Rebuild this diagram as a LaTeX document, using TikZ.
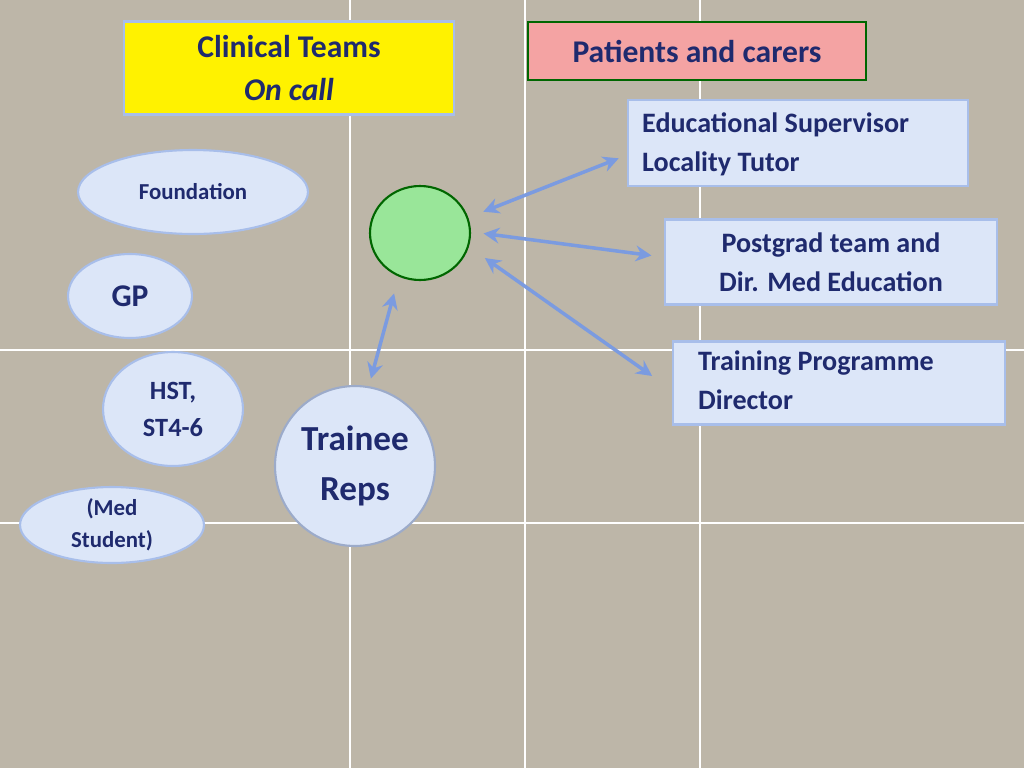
\documentclass[tikz,border=0pt]{standalone}
\usepackage{fontspec}
\setmainfont{Carlito}
\usetikzlibrary{shapes.geometric,arrows.meta}
\definecolor{bg}{HTML}{BDB6A8}
\definecolor{navy}{HTML}{1F2A6E}
\definecolor{lb}{HTML}{DCE6F8}
\definecolor{lbd}{HTML}{A8BEEA}
\definecolor{arr}{HTML}{7B9BE0}
\definecolor{pinkf}{HTML}{F4A3A3}
\definecolor{greenf}{HTML}{99E699}
\begin{document}
\begin{tikzpicture}[x=0.02cm,y=-0.02cm,
  txt/.style={text=navy,font=\bfseries,align=center},
  bx/.style={draw=lbd,line width=1.2pt,fill=lb,inner sep=0pt},
  ell/.style={draw=lbd,line width=1.2pt,fill=lb,ellipse,inner sep=0pt,txt},
  link/.style={arr,line width=2pt,{Stealth[length=9pt,width=9pt]}-{Stealth[length=9pt,width=9pt]},shorten <=2pt,shorten >=2pt}]
\fill[bg] (0,0) rectangle (1024,768);
\useasboundingbox (0,0) rectangle (1024,768);
\foreach \x in {350,525,700} \draw[white,line width=1pt] (\x,0) -- (\x,768);
\foreach \y in {350,523} \draw[white,line width=1pt] (0,\y) -- (1024,\y);
\node[draw=lbd,line width=1.2pt,fill=yellow,inner sep=0pt,minimum width=6.6cm,minimum height=1.86cm] (ct) at (289,68) {};
\node[txt,font=\fontsize{18}{24}\bfseries] (ctt) at (289,68) {Clinical Teams\\\textit{On call}};
\node[draw=black!60!green,fill=pinkf,line width=0.8pt,minimum width=6.76cm,minimum height=1.16cm,txt,font=\fontsize{18}{22}\bfseries] (pc) at (697,51) {Patients and carers};
\node[bx,minimum width=6.8cm,minimum height=1.72cm] (es) at (798,143) {};
\node[txt,align=left,anchor=west,font=\fontsize{16}{22}\bfseries] (est) at (636,144) {Educational Supervisor\\Locality Tutor};
\node[bx,minimum width=6.64cm,minimum height=1.7cm,txt,font=\fontsize{16}{22}\bfseries] (pg) at (831,262) {Postgrad team and\\Dir. Med Education};
\node[bx,minimum width=6.64cm,minimum height=1.66cm] (tp) at (839,383) {};
\node[txt,align=left,anchor=west,font=\fontsize{16}{22}\bfseries] (tpt) at (692,380) {Training Programme\\Director};
\node[draw=green!40!black,line width=1.2pt,fill=greenf,ellipse,minimum width=2cm,minimum height=1.88cm] (gc) at (420,233) {};
\node[ell,minimum width=4.6cm,minimum height=1.68cm,font=\fontsize{13}{16}\bfseries] (fo) at (193,192) {Foundation};
\node[ell,minimum width=2.48cm,minimum height=1.68cm,font=\fontsize{18}{22}\bfseries] (gp) at (130,296) {GP};
\node[ell,minimum width=2.8cm,minimum height=2.28cm,font=\fontsize{15}{21}\bfseries] (hst) at (173,409) {HST,\\ST4-6};
\node[ell,minimum width=3.68cm,minimum height=1.52cm,font=\fontsize{13}{18}\bfseries] (ms) at (112,525) {(Med\\Student)};
\node[draw=lbd!70!gray,line width=1.2pt,fill=lb,circle,inner sep=0pt,minimum size=3.2cm,txt,font=\fontsize{20}{28}\bfseries] (tr) at (355,466) {Trainee\\Reps};
\coordinate (a1) at (480,213); \coordinate (b1) at (622,157);
\coordinate (a2) at (480,233); \coordinate (b2) at (655,256);
\coordinate (a3) at (482,256); \coordinate (b3) at (655,378);
\coordinate (a4) at (395,290); \coordinate (b4) at (370,382);
\draw[link] (a1) -- (b1);
\draw[link] (a2) -- (b2);
\draw[link] (a3) -- (b3);
\draw[link] (a4) -- (b4);
\end{tikzpicture}
\end{document}
